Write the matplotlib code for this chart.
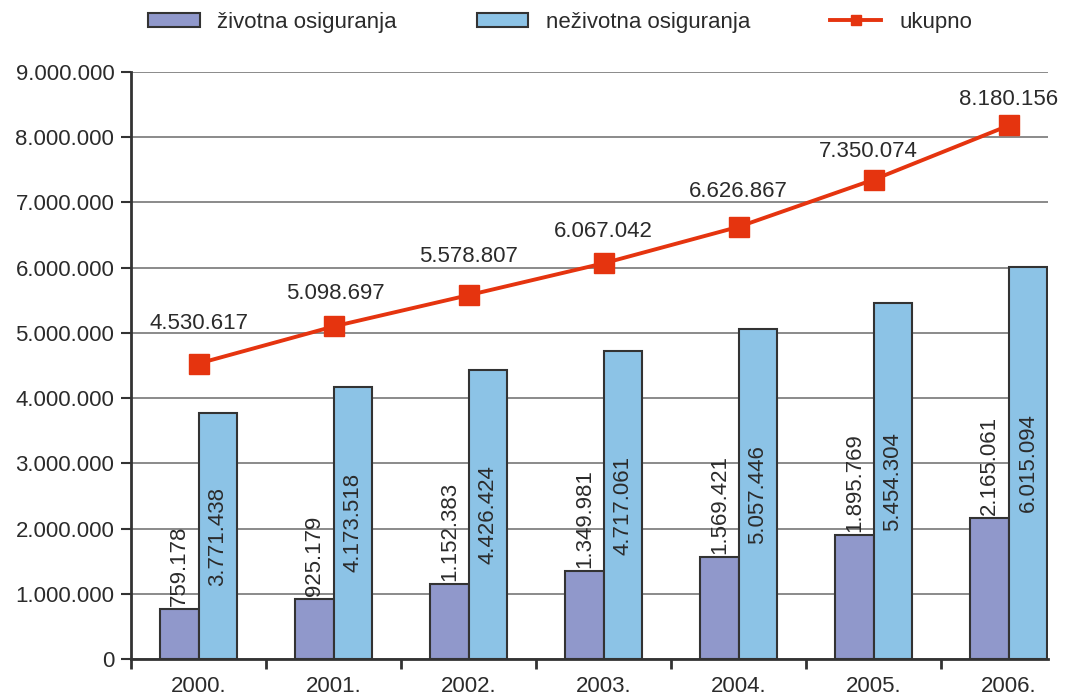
import matplotlib.pyplot as plt
from matplotlib.ticker import FuncFormatter, FixedLocator
import numpy as np

years = ["2000.", "2001.", "2002.", "2003.", "2004.", "2005.", "2006."]
zivotna = [759178, 925179, 1152383, 1349981, 1569421, 1895769, 2165061]
nezivotna = [3771438, 4173518, 4426424, 4717061, 5057446, 5454304, 6015094]
ukupno = [4530617, 5098697, 5578807, 6067042, 6626867, 7350074, 8180156]

# label offsets (pixels) for the "ukupno" values, as placed in the original
lab_dx = [0, 2, 0, 0, 0, -5, 0]
lab_dy = [35, 27, 33, 26, 30, 23, 20]


def dots(v, pos=None):
    return f"{int(round(v)):,}".replace(",", ".")


plt.rcParams["font.family"] = ["Liberation Sans", "DejaVu Sans"]
text_col = "#2b2b2b"
purple = "#9098cb"
blue = "#8cc3e6"
red = "#e5340f"
edge = "#333333"

fig = plt.figure(figsize=(10.65, 6.96), dpi=100)
ax = fig.add_axes([131 / 1065, 37 / 696, 917 / 1065, 587 / 696])

x = np.arange(len(years))
w = 0.285
b1 = ax.bar(x - w / 2, zivotna, w, color=purple, edgecolor=edge, linewidth=1.5,
            label="životna osiguranja", zorder=3)
b2 = ax.bar(x + w / 2, nezivotna, w, color=blue, edgecolor=edge, linewidth=1.5,
            label="neživotna osiguranja", zorder=3)
ln, = ax.plot(x, ukupno, color=red, lw=2.8, marker="s", markersize=14,
              label="ukupno", zorder=4, clip_on=False)

fs = 16
for xi, v in zip(x, zivotna):
    ax.annotate(dots(v), (xi - w / 2, v), xytext=(0, 3), textcoords="offset pixels",
                rotation=90, ha="center", va="bottom", fontsize=fs, color=text_col)
for xi, v in zip(x, nezivotna):
    ax.text(xi + w / 2, v / 2, dots(v), rotation=90, ha="center", va="center",
            fontsize=fs, color=text_col, zorder=5)
for xi, v, dx, dy in zip(x, ukupno, lab_dx, lab_dy):
    ax.annotate(dots(v), (xi, v), xytext=(dx, dy), textcoords="offset pixels",
                ha="center", va="baseline", fontsize=fs, color=text_col,
                annotation_clip=False)

ax.set_xlim(-0.5, 6.29)
ax.set_ylim(0, 9000000)
ax.set_yticks(np.arange(0, 9000001, 1000000))
ax.yaxis.set_major_formatter(FuncFormatter(dots))
ax.set_xticks(x)
ax.set_xticklabels(years)
ax.xaxis.set_minor_locator(FixedLocator(np.arange(-0.5, 6.3, 1)))
ax.tick_params(axis="x", which="major", length=0, pad=12, labelsize=fs, labelcolor=text_col)
ax.tick_params(axis="x", which="minor", length=7, width=2, color=edge)
ax.tick_params(axis="y", length=7, width=1.5, color=edge, labelsize=fs, labelcolor=text_col, pad=5)

ax.grid(axis="y", color="#8a8a8a", lw=1.4, zorder=0)
for s in ["top", "right"]:
    ax.spines[s].set_visible(False)
for s in ["left", "bottom"]:
    ax.spines[s].set_linewidth(2)
    ax.spines[s].set_color(edge)
    ax.spines[s].set_zorder(6)

fig.legend(handles=[b1, b2, ln], loc="center", bbox_to_anchor=(0.526, 0.968), ncol=3,
           frameon=False, handlelength=2.3, handleheight=0.55, handletextpad=0.8,
           columnspacing=3.6, markerscale=0.55, prop={"size": 16}, labelcolor=text_col)

fig.savefig("out.png", dpi=100)
